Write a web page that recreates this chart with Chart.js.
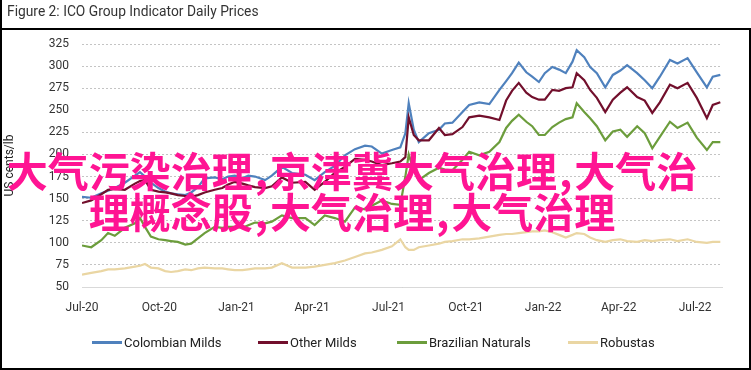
<!DOCTYPE html>
<html><head><meta charset="utf-8">
<script src="https://cdn.jsdelivr.net/npm/chart.js@4"></script>
<style>
html,body{margin:0;padding:0;background:#fff;}
#wrap{position:relative;width:751px;height:370px;overflow:hidden;font-family:Roboto,"Noto Sans",sans-serif;}
#frame{position:absolute;left:0;top:28px;width:747px;height:338px;border:2px solid #000;pointer-events:none;}
#lline{position:absolute;left:0;top:0;width:2px;height:30px;background:#000;}
#title{position:absolute;left:7px;top:3px;font-size:13.8px;color:#333;white-space:nowrap;}
canvas{position:absolute;left:0;top:0;}
#legend{position:absolute;top:335px;left:0;width:751px;height:18px;}
.item{position:absolute;top:0;display:flex;align-items:center;font-size:13px;color:#222;white-space:nowrap;}
.sw{width:30px;height:3px;margin-right:2px;}
#overlay{position:absolute;left:0;top:149px;width:704px;text-align:center;font-family:"Noto Sans CJK SC";font-weight:bold;font-size:41px;line-height:41px;color:#FF1493;white-space:nowrap;}
#overlay .c{margin:0 2px;}
</style></head>
<body>
<div id="wrap">
<canvas id="c" width="751" height="370"></canvas>
<div id="title">Figure 2: ICO Group Indicator Daily Prices</div>
<div id="legend"></div>
<div id="overlay">大气污染治理<span class="c">,</span>京津冀大气治理<span class="c">,</span>大气治<br>理概念股<span class="c">,</span>大气治理<span class="c">,</span>大气治理</div>
<div id="frame"></div><div id="lline"></div>
</div>
<script>
// days since 1 Jul 2020
const days = [0,11,23,31,39,51,63,69,75,82,91,99,106,114,123,130,138,146,158,167,174,182,191,198,206,218,226,238,250,266,277,289,301,313,325,337,345,357,369,379,385,389,395,401,413,425,432,441,453,461,473,485,497,505,512,520,529,536,544,551,560,568,576,584,589,598,605,613,623,632,641,649,661,670,679,688,700,709,721,732,744,751,760];
const colombianMilds = [152,151,156,159,162,168,176,180,175,168,162,158,156,155,154,157,163,173,174,172,175,176,173,176,175,171,176,186,179,177,171,180,187,199,206,210,209,201,205,208,224,258,228,214,224,228,235,236,248,256,259,257,273,283,292,304,293,288,282,292,299,296,292,305,318,310,299,292,276,290,295,301,292,284,275,288,307,303,309,293,276,288,290];
const otherMilds = [145,148,155,160,161,160,167,170,171,160,158,157,156,154,153,152,154,157,160,162,166,169,167,165,163,162,164,174,168,169,160,169,179,186,195,194,192,188,190,192,197,242,222,216,216,230,222,223,231,242,244,242,239,261,272,281,270,265,262,262,273,272,275,276,292,284,273,264,248,262,270,276,265,261,247,259,279,275,281,264,241,256,259];
const brazilianNaturals = [97,95,103,111,108,117,122,128,118,107,104,103,102,101,98,99,105,111,118,117,118,118,117,120,123,122,124,131,128,128,120,131,128,124,140,138,142,148,144,143,175,200,182,171,179,185,183,182,194,203,199,203,214,230,238,245,237,232,222,222,231,236,240,242,258,248,241,232,216,226,228,220,232,224,207,220,237,230,236,219,205,214,214];
const robustas = [64,66,68,70,70,71,73,74,76,72,71,68,67,68,70,69,71,72,71,71,70,69,69,70,71,71,72,77,72,72,73,75,77,80,84,88,89,92,96,104,95,92,92,95,97,99,101,102,104,104,105,107,109,110,110,111,112,113,113,114,112,109,106,109,111,110,106,103,101,103,104,102,101,103,102,103,104,102,104,101,100,101,101];
const seriesNames = ['Colombian Milds','Other Milds','Brazilian Naturals','Robustas'];
const tickDays = [0,92,184,274,365,457,549,639,730];
const tickLabels = ['Jul-20','Oct-20','Jan-21','Apr-21','Jul-21','Oct-21','Jan-22','Apr-22','Jul-22'];
const yTicks = [50,75,100,125,150,175,200,225,250,275,300,325];

const colors = ['#4F81BD','#720F2C','#6C9D3C','#EAD6A3'];
const values = [colombianMilds, otherMilds, brazilianNaturals, robustas];
const legendX = [92,258,397,568];

const lg = document.getElementById('legend');
seriesNames.forEach((n,i)=>{
  const d=document.createElement('div'); d.className='item'; d.style.left=legendX[i]+'px';
  d.innerHTML='<span class="sw" style="background:'+colors[i]+'"></span><span>'+n+'</span>';
  lg.appendChild(d);
});

const font = {family:'Roboto, "Noto Sans", sans-serif', size:12};
new Chart(document.getElementById('c'), {
  type:'line',
  data:{datasets: seriesNames.map((n,i)=>({
    label:n, data: days.map((d,j)=>({x:d,y:values[i][j]})),
    borderColor:colors[i], backgroundColor:colors[i], borderWidth:2.2, pointRadius:0, tension:0, fill:false
  })).reverse()},
  options:{
    responsive:false, animation:false, events:[],
    layout:{padding:{left:2,right:29,top:44,bottom:2}},
    plugins:{legend:{display:false}, tooltip:{enabled:false}},
    scales:{
      x:{type:'linear', min:0, max:762,
        afterBuildTicks:s=>{s.ticks=tickDays.map(v=>({value:v}));},
        afterFit:s=>{s.height=81;},
        ticks:{callback:(v,i)=>tickLabels[i], padding:14, font, color:'#333', maxRotation:0, autoSkip:false},
        grid:{display:false, drawTicks:false},
        border:{display:true, color:'#d9d9d9', width:1}},
      y:{min:50, max:325,
        afterBuildTicks:s=>{s.ticks=yTicks.map(v=>({value:v}));},
        afterFit:s=>{s.width=80;},
        ticks:{padding:13, font, color:'#333'},
        grid:{color:'#c4c4c4', lineWidth:1, drawTicks:false},
        border:{display:false, dash:[2,2]},
        title:{display:true, text:'US cents/lb', padding:{top:1,bottom:0}, font, color:'#222'}}
    }
  }
});
</script>
</body></html>
